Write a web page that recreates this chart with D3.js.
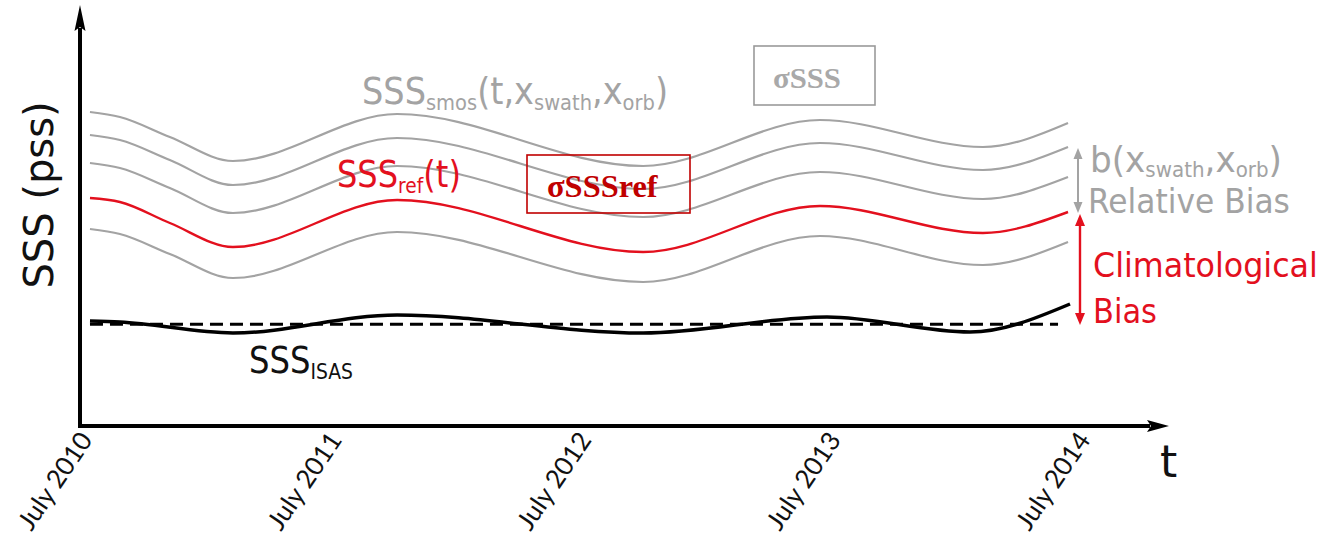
<!DOCTYPE html>
<html><head><meta charset="utf-8">
<script src="https://cdn.jsdelivr.net/npm/d3@7"></script>
<style>html,body{margin:0;padding:0;background:#fff;overflow:hidden}</style>
</head><body><svg id="c" width="1321" height="538"></svg>
<script>
// ---- data (time in decimal years, SSS in arbitrary relative units) ----
const tYears  = [2010.54, 2010.66, 2010.86, 2011.113, 2011.771, 2012.757, 2013.466, 2014.119, 2014.46];
const smos1   = [31.3, 30.8, 28.8, 26.4, 31.1, 25.9, 30.5, 27.8, 30.2];
const smos2   = [29.0, 28.5, 26.5, 24.0, 28.7, 23.6, 28.2, 25.5, 27.8];
const smos3   = [26.2, 25.7, 23.7, 21.2, 25.9, 20.8, 25.3, 22.6, 24.8];
const sssRef  = [22.7, 22.3, 20.2, 17.8, 22.5, 17.3, 21.9, 19.2, 21.3];
const smos4   = [19.6, 19.1, 17.1, 14.7, 19.3, 14.3, 18.9, 16.0, 18.3];
const isasYears = [2010.54, 2010.66, 2011.113, 2011.771, 2012.757, 2013.494, 2014.067, 2014.468];
const sssIsas   = [10.4, 10.3, 9.2, 11.0, 9.2, 10.8, 9.3, 12.1];
const isasMeanYears = [2010.54, 2014.42];
const isasMean      = [10.07, 10.07];
const tickYears  = [2010.5, 2011.5, 2012.5, 2013.5, 2014.5];
const tickLabels = ["July 2010", "July 2011", "July 2012", "July 2013", "July 2014"];
const biasYear = 2014.5;
const relBiasRange  = [27.7, 21.2];
const climBiasRange = [21.1, 10.0];

// ---- setup ----
const svg = d3.select("#c");
const x = d3.scaleLinear().domain([2010.5, 2014.5]).range([80, 1078]);
const y = d3.scaleLinear().domain([0, 41.6]).range([425, 9]);
const GRAY = "#a3a3a3", RED = "#e3101e", DARKRED = "#c00000";

const line = d3.line().x(d => x(d[0])).y(d => y(d[1])).curve(d3.curveMonotoneX);
const zip = (xs, ys) => xs.map((v, i) => [v, ys[i]]);

// gray SMOS curves
[smos1, smos2, smos3, smos4].forEach(s => {
  svg.append("path").attr("d", line(zip(tYears, s)))
    .attr("fill", "none").attr("stroke", GRAY).attr("stroke-width", 2.2);
});
// red reference
svg.append("path").attr("d", line(zip(tYears, sssRef)))
  .attr("fill", "none").attr("stroke", RED).attr("stroke-width", 2.4);
// dashed mean
svg.append("path").attr("d", d3.line().x(d => x(d[0])).y(d => y(d[1]))(zip(isasMeanYears, isasMean)))
  .attr("fill", "none").attr("stroke", "#000").attr("stroke-width", 3).attr("stroke-dasharray", "13,7");
// ISAS
svg.append("path").attr("d", line(zip(isasYears, sssIsas)))
  .attr("fill", "none").attr("stroke", "#000").attr("stroke-width", 3.5);

// ---- axes ----
const x0 = x.range()[0], y0 = y.range()[0] + 1;
svg.append("line").attr("x1", x0).attr("y1", y0 + 2).attr("x2", x0).attr("y2", 28)
  .attr("stroke", "#000").attr("stroke-width", 4);
svg.append("path").attr("d", `M${x0},5 L${x0 - 5.5},31 L${x0},27 L${x0 + 5.5},31 Z`).attr("fill", "#000");
svg.append("line").attr("x1", x0 - 2).attr("y1", y0).attr("x2", 1150).attr("y2", y0)
  .attr("stroke", "#000").attr("stroke-width", 4);
svg.append("path").attr("d", `M1169,${y0} L1147,${y0 - 6} L1151,${y0} L1147,${y0 + 6} Z`).attr("fill", "#000");

const xAxis = d3.axisBottom(x).tickValues(tickYears).tickFormat((d, i) => tickLabels[i]).tickSize(0);
const gx = svg.append("g").attr("transform", `translate(0,${y.range()[0]})`).call(xAxis);
gx.select(".domain").remove();
gx.selectAll("text").attr("font-family", "Lato").attr("font-size", 26).attr("fill", "#111")
  .attr("text-anchor", "end").attr("x", 0).attr("y", 0).attr("dy", 0)
  .attr("transform", "translate(13,15) rotate(-56)");

// ---- text helper ----
function label(parts, o) {
  const t = svg.append("text").attr("font-family", o.family || "DejaVu Sans")
    .attr("font-size", o.size).attr("fill", o.color).attr("font-weight", o.weight || "normal");
  let cur = 0;
  parts.forEach(p => {
    const ts = t.append("tspan").text(p.t);
    const want = p.sub ? o.size * 0.15 : 0;
    if (p.sub) ts.attr("font-size", o.size * 0.58);
    if (want !== cur) ts.attr("dy", want - cur);
    cur = want;
  });
  const bb = t.node().getBBox();
  const sx = o.width ? o.width / bb.width : 1;
  t.attr("transform", `translate(${o.x - bb.x * sx},${o.y}) scale(${sx},1)`);
  return t;
}

// y-axis label
svg.append("text").attr("font-family", "DejaVu Sans").attr("font-size", 40).attr("fill", "#111")
  .attr("text-anchor", "middle").attr("transform", "translate(53,195) rotate(-90)").text("SSS (pss)");
// t label
svg.append("text").attr("font-family", "DejaVu Sans").attr("font-size", 44).attr("fill", "#111")
  .attr("x", 1160).attr("y", 477).text("t");

label([{t: "SSS"}, {t: "smos", sub: 1}, {t: "(t,x"}, {t: "swath", sub: 1}, {t: ",x"}, {t: "orb", sub: 1}, {t: ")"}],
  {x: 362, y: 104, size: 38, color: GRAY, width: 306});
label([{t: "SSS"}, {t: "ref", sub: 1}, {t: "(t)"}], {x: 337, y: 187, size: 38, color: RED, width: 124});
label([{t: "SSS"}, {t: "ISAS", sub: 1}], {x: 249, y: 373, size: 38, color: "#111", width: 104});
label([{t: "b(x"}, {t: "swath", sub: 1}, {t: ",x"}, {t: "orb", sub: 1}, {t: ")"}],
  {x: 1090, y: 172, size: 36, color: GRAY, width: 192});
label([{t: "Relative Bias"}], {x: 1088, y: 213, size: 33, color: GRAY, width: 202});
label([{t: "Climatological"}], {x: 1093, y: 277, size: 33, color: RED, width: 225});
label([{t: "Bias"}], {x: 1093, y: 323, size: 33, color: RED, width: 64});

// boxes
svg.append("rect").attr("x", 754).attr("y", 46).attr("width", 121).attr("height", 59)
  .attr("fill", "none").attr("stroke", "#9a9a9a").attr("stroke-width", 1.6);
label([{t: "σSSS"}], {x: 773, y: 88, size: 29, color: "#a9a9a9", width: 68, family: "Liberation Serif", weight: "bold"});
svg.append("rect").attr("x", 527).attr("y", 155).attr("width", 163).attr("height", 58)
  .attr("fill", "none").attr("stroke", DARKRED).attr("stroke-width", 1.6);
label([{t: "σSSSref"}], {x: 547, y: 197, size: 32, color: DARKRED, width: 111, family: "Liberation Serif", weight: "bold"});

// bias arrows
function dblArrow(xv, range, color, w, hl, hw) {
  const xa = x(xv), ya = y(range[0]), yb = y(range[1]);
  svg.append("line").attr("x1", xa).attr("x2", xa).attr("y1", ya + hl - 1).attr("y2", yb - hl + 1)
    .attr("stroke", color).attr("stroke-width", w);
  svg.append("path").attr("d", `M${xa},${ya} L${xa - hw},${ya + hl} L${xa + hw},${ya + hl} Z`).attr("fill", color);
  svg.append("path").attr("d", `M${xa},${yb} L${xa - hw},${yb - hl} L${xa + hw},${yb - hl} Z`).attr("fill", color);
}
dblArrow(biasYear, relBiasRange, GRAY, 2, 11, 4.5);
dblArrow(biasYear + 0.008, climBiasRange, RED, 2.4, 12, 5);
</script></body></html>
